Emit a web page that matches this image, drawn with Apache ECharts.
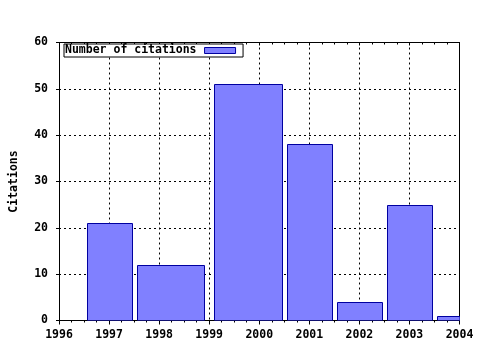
<!DOCTYPE html>
<html>
<head>
<meta charset="utf-8">
<script src="https://cdn.jsdelivr.net/npm/echarts@6/dist/echarts.min.js"></script>
<style>html,body{margin:0;padding:0;background:#fff}#c{width:480px;height:350px}</style>
</head>
<body>
<div id="c"></div>
<script>
// Data
const barStart = [1996.55, 1997.55, 1999.1, 2000.55, 2001.55, 2002.55, 2003.55];
const barEnd   = [1997.45, 1998.9, 2000.45, 2001.45, 2002.45, 2003.45, 2004.45];
const citations = [21, 12, 51, 38, 4, 25, 1];
const xTicks = [1996, 1997, 1998, 1999, 2000, 2001, 2002, 2003, 2004];
const yTicks = [0, 10, 20, 30, 40, 50, 60];
const seriesName = 'Number of citations';
const yTitle = 'Citations';

const FONT = 'DejaVu Sans Mono';
const fill = '#8080ff';
const edge = '#0000a0';

const data = citations.map((v, i) => [barStart[i], barEnd[i], v]);

const chart = echarts.init(document.getElementById('c'), null, {renderer: 'canvas'});
const dotted = {show: true, lineStyle: {color: '#000', type: [2, 3], width: 1}};
chart.setOption({
  animation: false,
  backgroundColor: '#fff',
  textStyle: {fontFamily: FONT, fontWeight: 'bold'},
  grid: {left: 57.5, right: 20.5, top: 42.5, bottom: 29.5, containLabel: false},
  legend: {
    show: true, left: 64, top: 44, align: 'right', orient: 'horizontal',
    backgroundColor: '#fff', borderColor: '#000', borderWidth: 1,
    padding: [0, 7, 0, 1], itemWidth: 31, itemHeight: 6,
    textStyle: {fontFamily: FONT, fontWeight: 'bold', fontSize: 11.5, color: '#000', lineHeight: 13, padding: [0, 3, 0, 0]},
    data: [{name: seriesName, icon: 'rect', itemStyle: {color: fill, borderColor: edge, borderWidth: 1}}]
  },
  xAxis: [{
    type: 'value', min: xTicks[0], max: xTicks[xTicks.length - 1], interval: 1,
    axisLine: {show: true, onZero: false, lineStyle: {color: '#000', width: 1}},
    axisTick: {show: true, inside: false, length: 4, lineStyle: {color: '#000'}},
    minorTick: {show: true, splitNumber: 4, length: 2, lineStyle: {color: '#000'}},
    splitLine: dotted,
    axisLabel: {show: true, margin: 9, color: '#000', fontFamily: FONT, fontWeight: 'bold', fontSize: 11.5,
      formatter: v => String(v)}
  }, {
    type: 'value', position: 'top', min: xTicks[0], max: xTicks[xTicks.length - 1], interval: 1,
    axisLine: {show: true, onZero: false, lineStyle: {color: '#000', width: 1}},
    axisTick: {show: true, inside: true, length: 3, lineStyle: {color: '#000'}},
    minorTick: {show: true, splitNumber: 4, length: 2, lineStyle: {color: '#000'}},
    splitLine: {show: false}, axisLabel: {show: false}
  }],
  yAxis: [{
    type: 'value', min: yTicks[0], max: yTicks[yTicks.length - 1], interval: 10,
    name: yTitle, nameLocation: 'middle', nameGap: 39, nameRotate: 90,
    nameTextStyle: {color: '#000', fontFamily: FONT, fontWeight: 'bold', fontSize: 11.5},
    axisLine: {show: true, onZero: false, lineStyle: {color: '#000', width: 1}},
    axisTick: {show: true, inside: false, length: 3, lineStyle: {color: '#000'}},
    splitLine: dotted,
    axisLabel: {show: true, margin: 11, color: '#000', fontFamily: FONT, fontWeight: 'bold', fontSize: 11.5}
  }, {
    type: 'value', position: 'right', min: yTicks[0], max: yTicks[yTicks.length - 1], interval: 10,
    axisLine: {show: true, onZero: false, lineStyle: {color: '#000', width: 1}},
    axisTick: {show: false}, splitLine: {show: false}, axisLabel: {show: false}
  }],
  series: [{
    name: seriesName,
    type: 'custom',
    clip: true,
    encode: {x: [0, 1], y: 2},
    itemStyle: {color: fill, borderColor: edge, borderWidth: 1},
    renderItem: function (params, api) {
      const p0 = api.coord([api.value(0), 0]);
      const p1 = api.coord([api.value(1), api.value(2)]);
      const rect = echarts.graphic.clipRectByRect({
        x: Math.round(p0[0]) + 0.5, y: Math.round(p1[1]) + 0.5,
        width: Math.round(p1[0]) - Math.round(p0[0]), height: Math.round(p0[1]) - Math.round(p1[1])
      }, {x: params.coordSys.x, y: params.coordSys.y - 1, width: params.coordSys.width + 0.5, height: params.coordSys.height + 1});
      return rect && {
        type: 'rect', shape: rect,
        style: {fill: fill, stroke: edge, lineWidth: 1}
      };
    },
    data: data
  }]
});
</script>
</body>
</html>
